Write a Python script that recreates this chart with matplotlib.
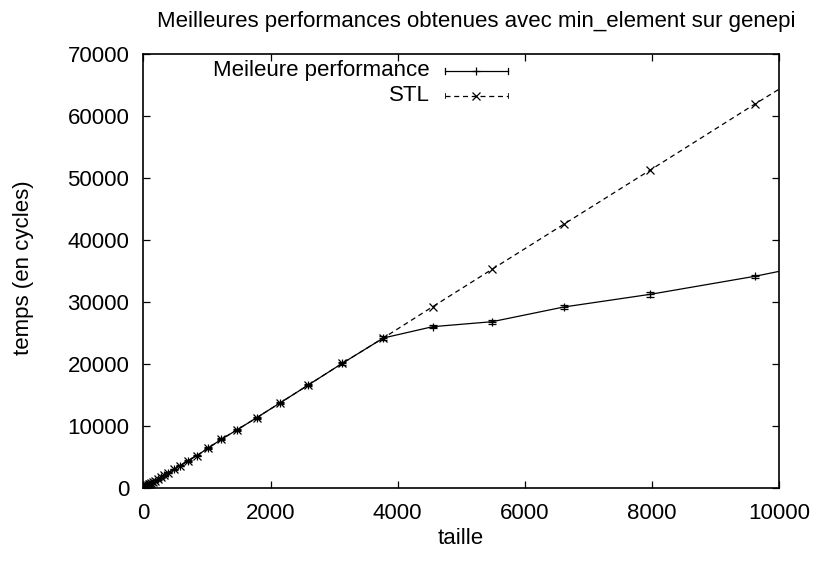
import matplotlib
matplotlib.use('Agg')
import matplotlib.pyplot as plt

plt.rcParams['font.family'] = ['Liberation Sans', 'DejaVu Sans']

# taille des tableaux (axe x)
taille = [11, 13, 16, 19, 23, 28, 34, 41, 50, 60, 73, 88, 106, 128, 155, 187,
          225, 272, 328, 396, 478, 577, 698, 840, 1022, 1226, 1478, 1783, 2149,
          2594, 3129, 3774, 4550, 5483, 6610, 7972, 9618, 11600]

# STL min_element
stl = [85, 100, 120, 140, 165, 195, 235, 280, 335, 400, 480, 570, 680, 820, 980,
       1180, 1420, 1710, 2060, 2480, 3000, 3600, 4350, 5210, 6450, 7850, 9400,
       11340, 13710, 16610, 20110, 24190, 29240, 35270, 42530, 51290, 61935, 74450]

# meilleure performance
perf = [85, 100, 120, 140, 165, 195, 235, 280, 335, 400, 480, 570, 680, 820, 980,
        1180, 1420, 1710, 2060, 2480, 3000, 3600, 4350, 5210, 6450, 7850, 9400,
        11340, 13710, 16610, 20110, 24190, 26020, 26820, 29190, 31240, 34150, 38290]
perf_err = [20, 20, 20, 20, 20, 20, 20, 20, 20, 30, 30, 30, 40, 40, 50, 50,
            60, 60, 80, 80, 100, 100, 120, 120, 150, 150, 150, 150, 200,
            200, 200, 250, 280, 350, 250, 450, 250, 300]

FS = 16

fig = plt.figure(figsize=(8.18, 5.62), dpi=100)
ax = fig.add_axes([143.3 / 818, 1 - 488 / 562, 636 / 818, 434 / 562])

ax.errorbar(taille, perf, yerr=perf_err, color='black', lw=0.9, marker='+',
            ms=6, mew=0.9, elinewidth=0.9, capsize=3, capthick=0.9)
ax.plot(taille, stl, color='black', lw=0.9, ls=(0, (4, 3)), marker='x',
        ms=6, mew=0.9)

ax.set_xlim(0, 10000)
ax.set_ylim(0, 70000)
ax.set_xticks(range(0, 10001, 2000))
ax.set_yticks(range(0, 70001, 10000))
ax.tick_params(direction='in', length=5, width=0.9, top=True, right=True,
               labelsize=FS)
ax.tick_params(axis='x', pad=11)
ax.tick_params(axis='y', pad=10)
for s in ax.spines.values():
    s.set_linewidth(1.2)

fig.text(461 / 818, 1 - 538 / 562, 'taille', ha='center', va='center', fontsize=FS)
fig.text(24 / 818, 1 - 268 / 562, 'temps (en cycles)', ha='center', va='center',
         rotation=90, fontsize=FS)
fig.text(476 / 818, 1 - 22 / 562, 'Meilleures performances obtenues avec min_element sur genepi',
         ha='center', va='center', fontsize=FS)

# legende a la gnuplot
tr = ax.transAxes
ax.text(0.4508, 0.9615, 'Meileure performance', transform=tr, ha='right',
        va='center', fontsize=FS)
ax.text(0.4508, 0.904, 'STL', transform=tr, ha='right', va='center', fontsize=FS)
x0, x1, xm = 0.474, 0.573, 0.5235
ax.plot([x0, x1], [0.9615, 0.9615], transform=tr, color='black', lw=0.9, clip_on=False)
ax.plot([xm], [0.9615], transform=tr, color='black', marker='+', ms=6, mew=0.9, clip_on=False)
for xe in (x0, x1):
    ax.plot([xe, xe], [0.9545, 0.9685], transform=tr, color='black', lw=0.9, clip_on=False)
ax.plot([x0, x1], [0.904, 0.904], transform=tr, color='black', lw=0.9,
        ls=(0, (4, 3)), clip_on=False)
ax.plot([xm], [0.904], transform=tr, color='black', marker='x', ms=6, mew=0.9, clip_on=False)
for xe in (x0, x1):
    ax.plot([xe, xe], [0.899, 0.909], transform=tr, color='black', lw=0.6, clip_on=False)

fig.savefig('out.png', dpi=100)
